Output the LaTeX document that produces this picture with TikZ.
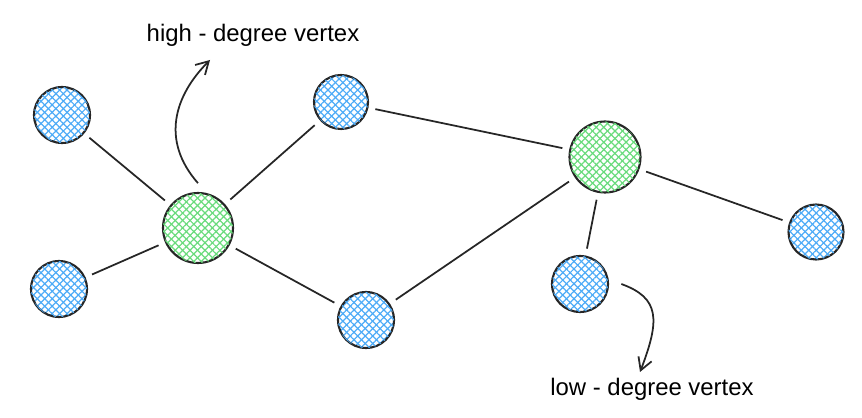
\documentclass[tikz,border=0pt]{standalone}
\usepackage{fontspec}
\setmainfont{Liberation Sans}
\usetikzlibrary{patterns.meta, arrows.meta}
\definecolor{hatchblue}{HTML}{4DABF7}
\definecolor{hatchgreen}{HTML}{69DB7C}

\begin{document}
\begin{tikzpicture}[x=0.02cm, y=-0.02cm,
    vertex/.style={circle, draw=black!85, line width=1.2pt, inner sep=0pt, minimum size=#1},
    lowv/.style={vertex=1.12cm, pattern={Lines[angle=45, distance=3pt, line width=0.7pt]}, pattern color=hatchblue,
      postaction={pattern={Lines[angle=-45, distance=3pt, line width=0.7pt]}, pattern color=hatchblue}},
    highv/.style={vertex=1.4cm, pattern={Lines[angle=45, distance=3pt, line width=0.7pt]}, pattern color=hatchgreen,
      postaction={pattern={Lines[angle=-45, distance=3pt, line width=0.7pt]}, pattern color=hatchgreen}},
    edge/.style={line width=1pt, black!85, shorten <=4pt, shorten >=4pt},
    note/.style={font=\fontsize{13.6}{16}\selectfont}]
    \useasboundingbox (0,0) rectangle (862,418);

    % vertices
    \node[lowv] at (62,115) (a) {};
    \node[lowv] at (59,289) (b) {};
    \node[highv] at (198,228) (hub) {};
    \node[lowv, minimum size=1.08cm] at (341,102) (c) {};
    \node[lowv] at (366,320) (d) {};
    \node[highv, minimum size=1.42cm] at (605,157) (hubtwo) {};
    \node[lowv] at (580,284) (e) {};
    \node[lowv, minimum size=1.1cm] at (816,232) (f) {};

    % edges
    \draw[edge] (a) -- (hub);
    \draw[edge] (b) -- (hub);
    \draw[edge] (c) -- (hub);
    \draw[edge] (hub) -- (d);
    \draw[edge] (c) -- (hubtwo);
    \draw[edge] (d) -- (hubtwo);
    \draw[edge] (hubtwo) -- (e);
    \draw[edge] (hubtwo) -- (f);

    % labels
    \node[note] at (253,35) (hilabel) {high - degree vertex};
    \node[note] at (652,389) (lolabel) {low - degree vertex};
    \coordinate (hitip) at (210,60);
    \coordinate (lotip) at (640,372);
    \draw[line width=1pt, black!85, -{Straight Barb[length=7pt, width=8pt]}]
      ([yshift=5pt]hub.north) .. controls (160,140) and (175,95) .. (hitip);
    \draw[line width=1pt, black!85, -{Straight Barb[length=7pt, width=8pt]}]
      ([xshift=7pt]e.east) .. controls (660,298) and (660,320) .. (lotip);
\end{tikzpicture}
\end{document}
